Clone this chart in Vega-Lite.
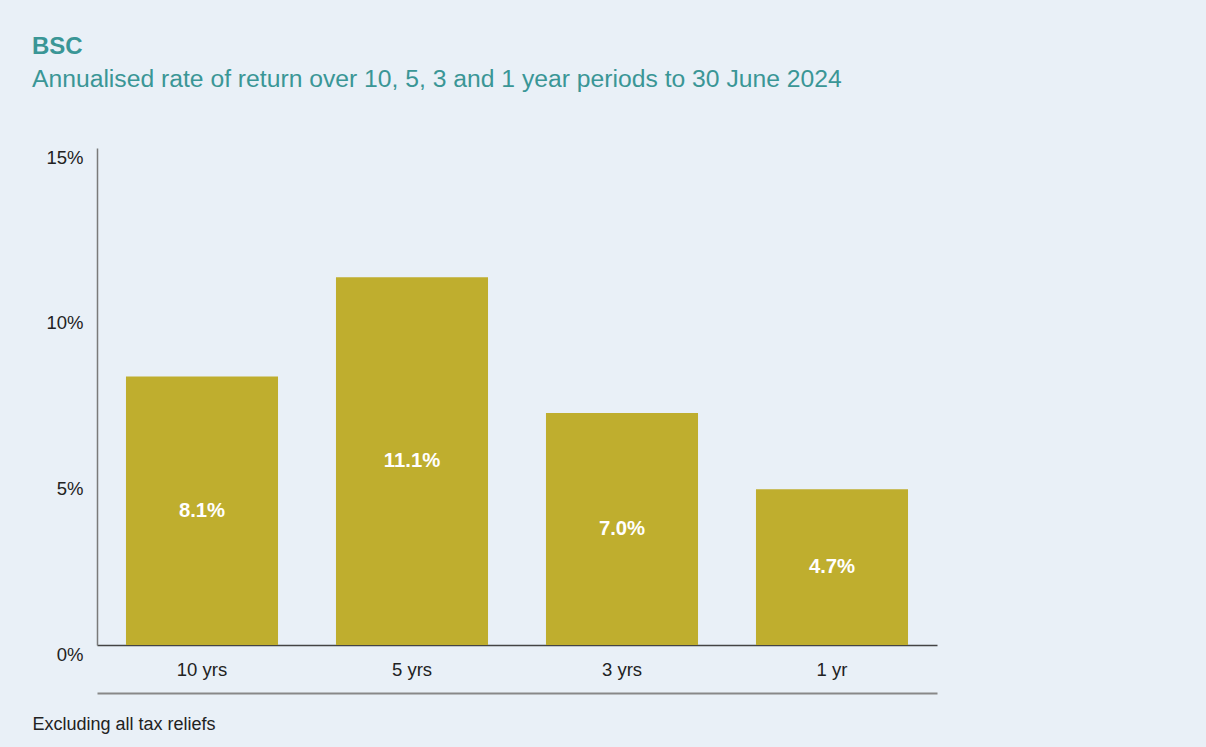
{
  "$schema": "https://vega.github.io/schema/vega-lite/v6.json",
  "width": 840,
  "height": 497,
  "autosize": {"type": "none"},
  "padding": {"left": 97, "top": 148, "right": 269, "bottom": 102},
  "background": "#e9f0f7",
  "config": {
    "view": {"stroke": null},
    "font": "Liberation Sans"
  },
  "title": {
    "text": "BSC",
    "subtitle": "Annualised rate of return over 10, 5, 3 and 1 year periods to 30 June 2024",
    "anchor": "start",
    "frame": "group",
    "dx": -65,
    "offset": 56,
    "font": "Liberation Sans",
    "fontSize": 24,
    "fontWeight": "bold",
    "color": "#3a9696",
    "subtitleFont": "Liberation Sans",
    "subtitleFontSize": 24.7,
    "subtitleColor": "#3a9696",
    "subtitlePadding": 8
  },
  "data": {
    "values": [
      {"period": "10 yrs", "value": 0.081},
      {"period": "5 yrs", "value": 0.111},
      {"period": "3 yrs", "value": 0.070},
      {"period": "1 yr", "value": 0.047}
    ]
  },
  "layer": [
    {
      "mark": {"type": "bar", "color": "#bfae2e"},
      "encoding": {
        "x": {
          "field": "period",
          "type": "nominal",
          "sort": null,
          "scale": {"paddingInner": 0.276, "paddingOuter": 0.138},
          "axis": {
            "orient": "bottom",
            "title": null,
            "labelAngle": 0,
            "labelFontSize": 18.5,
            "labelColor": "#222222",
            "labelPadding": 15,
            "ticks": false,
            "domainColor": "#444444",
            "domainWidth": 1.5
          }
        },
        "y": {
          "field": "value",
          "type": "quantitative",
          "scale": {"domain": [0, 0.15], "nice": false},
          "axis": {
            "title": null,
            "values": [0, 0.05, 0.1, 0.15],
            "format": ".0%",
            "grid": false,
            "ticks": false,
            "labelFontSize": 18.5,
            "labelColor": "#222222",
            "labelPadding": 14,
            "labelOffset": 9,
            "domainColor": "#7a7a7a",
            "domainWidth": 1.5
          }
        }
      }
    },
    {
      "mark": {"type": "text", "color": "white", "fontWeight": "bold", "fontSize": 20.3, "baseline": "middle"},
      "encoding": {
        "x": {
          "field": "period",
          "type": "nominal",
          "sort": null,
          "axis": {
            "orient": "bottom",
            "offset": 48,
            "labels": false,
            "ticks": false,
            "domainColor": "#888888",
            "domainWidth": 2,
            "title": "Excluding all tax reliefs",
            "titleFont": "Liberation Sans",
            "titleFontSize": 18,
            "titleFontWeight": "normal",
            "titleColor": "#222222",
            "titleAnchor": "start",
            "titleAlign": "left",
            "titleX": -65,
            "titleY": 31,
            "titleBaseline": "middle"
          }
        },
        "y": {
          "field": "value",
          "type": "quantitative",
          "scale": {"domain": [0, 0.30], "nice": false},
          "axis": null
        },
        "text": {"field": "value", "type": "quantitative", "format": ".1%"}
      }
    }
  ],
  "resolve": {
    "scale": {"y": "independent"},
    "axis": {"x": "independent", "y": "independent"}
  }
}
